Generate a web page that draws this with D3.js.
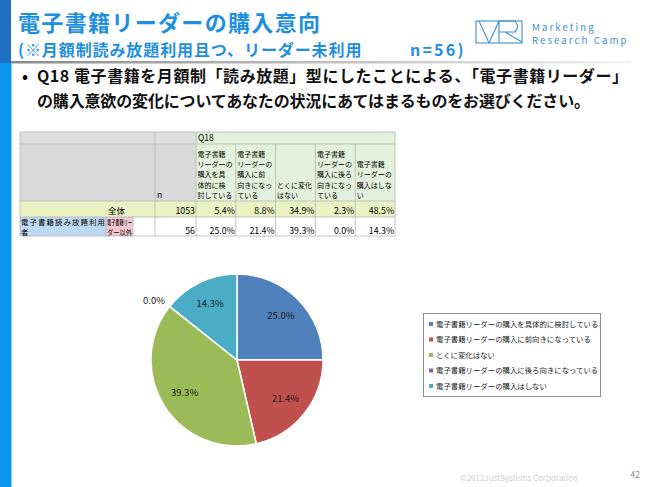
<!DOCTYPE html>
<html><head><meta charset="utf-8">
<script src="https://cdn.jsdelivr.net/npm/d3@7"></script>
<style>
html,body{margin:0;padding:0;background:#fff;}
svg{display:block;}
text{font-family:"Noto Sans CJK JP","Noto Sans",sans-serif;}
</style></head>
<body><svg id="c" width="650" height="487"></svg>
<script>
// ---- data ----
const titleLine1 = "電子書籍リーダーの購入意向";
const titleLine2a = "(※月額制読み放題利用且つ、リーダー未利用";
const titleLine2b = "n=56)";
const questionLines = ["Q18 電子書籍を月額制「読み放題」型にしたことによる、「電子書籍リーダー」",
                       "の購入意欲の変化についてあなたの状況にあてはまるものをお選びください。"];
const categories = ["電子書籍リーダーの購入を具体的に検討している",
                    "電子書籍リーダーの購入に前向きになっている",
                    "とくに変化はない",
                    "電子書籍リーダーの購入に後ろ向きになっている",
                    "電子書籍リーダーの購入はしない"];
const headerLines = [["電子書籍","リーダーの","購入を具","体的に検","討している"],
                     ["電子書籍","リーダーの","購入に前","向きになっ","ている"],
                     ["とくに変化","はない"],
                     ["電子書籍","リーダーの","購入に後ろ","向きになっ","ている"],
                     ["電子書籍","リーダーの","購入はしな","い"]];
const totalLabel = "全体";
const totalN = 1053;
const totalValues = [5.4, 8.8, 34.9, 2.3, 48.5];
const groupLabel = ["電子書籍読み放題利用","者"];
const subLabel = ["電子書籍リー","ダー以外"];
const readerN = 56;
const readerValues = [25.0, 21.4, 39.3, 0.0, 14.3];
const sliceColors = ["#4f81bd","#c0504d","#9bbb59","#8064a2","#4bacc6"];

const svg = d3.select("#c");
const fmt = d3.format(".1f");

// ---- frame ----
svg.append("rect").attr("x",0).attr("y",0).attr("width",11).attr("height",63).attr("fill","#1f6fc2");
svg.append("rect").attr("x",0).attr("y",63).attr("width",11).attr("height",424).attr("fill","#0a95f2");
svg.append("rect").attr("x",11).attr("y",63).attr("width",1).attr("height",424).attr("fill","#8fcdf8");
const defs = svg.append("defs");
const lg = defs.append("linearGradient").attr("id","hl");
lg.append("stop").attr("offset","0").attr("stop-color","#8a8a8a");
lg.append("stop").attr("offset","0.6").attr("stop-color","#c8c8c8");
lg.append("stop").attr("offset","1").attr("stop-color","#f4f4f4");
svg.append("rect").attr("x",11).attr("y",61).attr("width",620).attr("height",2.5).attr("fill","url(#hl)");

svg.append("text").attr("x",18).attr("y",31).attr("font-size",22).attr("font-weight","bold")
  .attr("fill","#1e8fe0").attr("textLength",302).attr("lengthAdjust","spacing").text(titleLine1);
const t2 = svg.append("text").attr("y",56).attr("font-size",16).attr("font-weight","bold").attr("fill","#1e8fe0");
t2.append("tspan").attr("x",18).attr("letter-spacing",0.9).text(titleLine2a);
t2.append("tspan").attr("x",410).attr("letter-spacing",2.2).text(titleLine2b);

// logo
const logo = svg.append("g").attr("stroke","#3d8fd2").attr("fill","none").attr("stroke-width",1.1);
logo.append("rect").attr("x",476).attr("y",21).attr("width",46).attr("height",22);
logo.append("path").attr("d","M479,21 L489,43 L499,21 M499,21 L499,43 M499,21 L515,21 Q520,27 515,32 L499,32 M505,32 L522,42");
svg.append("text").attr("x",532).attr("y",31).attr("font-size",9.6).attr("fill","#3d8fd2")
  .attr("font-family","DejaVu Sans").attr("letter-spacing",2.1).text("Marketing");
svg.append("text").attr("x",532).attr("y",44).attr("font-size",9.6).attr("fill","#3d8fd2")
  .attr("font-family","DejaVu Sans").attr("letter-spacing",2.1).text("Research Camp");

// question
svg.append("text").attr("x",22).attr("y",82).attr("font-size",16).attr("font-weight","bold").text("•");
svg.append("text").attr("x",37).attr("y",82).attr("font-size",16).attr("font-weight","bold")
  .attr("fill","#111").attr("textLength",591).attr("lengthAdjust","spacing").text(questionLines[0]);
svg.append("text").attr("x",37).attr("y",107).attr("font-size",16).attr("font-weight","bold")
  .attr("fill","#111").attr("textLength",553).attr("lengthAdjust","spacing").text(questionLines[1]);

// ---- table ----
const T = {x0:20, xN:155, xQ:196, x1:395, y0:132, yQ:144, yH:201, yT:217, y1:236};
const colX = d3.scaleBand().domain(d3.range(5)).range([T.xQ, T.x1]);
const tbl = svg.append("g").attr("font-size",8);
const line = "#b5b5b5";
tbl.append("rect").attr("x",T.x0).attr("y",T.y0).attr("width",T.xQ-T.x0).attr("height",T.yH-T.y0).attr("fill","#d9d9d9");
tbl.append("rect").attr("x",T.x0).attr("y",T.y0).attr("width",T.xQ-T.x0).attr("height",T.yQ-T.y0).attr("fill","#dedede");
tbl.append("rect").attr("x",T.xQ).attr("y",T.y0).attr("width",T.x1-T.xQ).attr("height",T.yH-T.y0).attr("fill","#e3f1dc");
tbl.append("rect").attr("x",T.x0).attr("y",T.yH).attr("width",T.x1-T.x0).attr("height",T.yT-T.yH).attr("fill","#eaf1c2");
tbl.append("rect").attr("x",T.x0).attr("y",T.yT).attr("width",106-T.x0).attr("height",T.y1-T.yT).attr("fill","#bcd8f2");
tbl.append("rect").attr("x",106).attr("y",T.yT).attr("width",133-106).attr("height",T.y1-T.yT).attr("fill","#f3c6d1");
// grid lines
const hl = (x1,x2,y)=>tbl.append("line").attr("x1",x1).attr("x2",x2).attr("y1",y).attr("y2",y).attr("stroke",line).attr("stroke-width",0.8);
const vl = (x,y1,y2)=>tbl.append("line").attr("x1",x).attr("x2",x).attr("y1",y1).attr("y2",y2).attr("stroke",line).attr("stroke-width",0.8);
hl(T.x0,T.x1,T.y0); hl(T.x0,T.x1,T.yQ); hl(T.x0,T.x1,T.yH); hl(T.x0,T.x1,T.yT); hl(T.x0,T.x1,T.y1);
vl(T.x0,T.y0,T.y1); vl(T.xN,T.y0,T.y1); vl(T.xQ,T.y0,T.y1); vl(T.x1,T.y0,T.y1);
d3.range(1,5).forEach(i=>vl(colX(i),T.yQ,T.y1));
vl(106,T.yT,T.y1); vl(133,T.yT,T.y1);
// header text
tbl.append("text").attr("x",T.xQ+2).attr("y",T.yQ-3).attr("font-size",8.5).text("Q18");
tbl.append("text").attr("x",T.xN+2).attr("y",T.yH-3).attr("font-size",8.5).text("n");
headerLines.forEach((ls,i)=>{
  ls.forEach((t,j)=>{
    tbl.append("text").attr("x",colX(i)+1.5).attr("y",T.yH-3-(ls.length-1-j)*10.3)
      .attr("font-size",7).text(t);
  });
});
// total row
tbl.append("text").attr("x",125).attr("y",T.yT-3).attr("text-anchor","end").attr("font-size",8.5).text(totalLabel);
tbl.append("text").attr("x",T.xQ-1).attr("y",T.yT-3).attr("text-anchor","end").attr("font-size",8.8).text(totalN);
totalValues.forEach((v,i)=>tbl.append("text").attr("x",colX(i)+colX.bandwidth()-1).attr("y",T.yT-3)
  .attr("text-anchor","end").attr("font-size",8.8).text(fmt(v)+"%"));
// data row
tbl.append("text").attr("x",T.x0+1).attr("y",T.yT+8.3).attr("font-size",7.4).attr("textLength",84).attr("lengthAdjust","spacing").text(groupLabel[0]);
tbl.append("text").attr("x",T.x0+1).attr("y",T.yT+18).attr("font-size",7.4).text(groupLabel[1]);
tbl.append("text").attr("x",107).attr("y",T.yT+8.3).attr("font-size",7.4).attr("textLength",25).attr("lengthAdjust","spacingAndGlyphs").text(subLabel[0]);
tbl.append("text").attr("x",107).attr("y",T.yT+18).attr("font-size",7.4).attr("textLength",25).attr("lengthAdjust","spacingAndGlyphs").text(subLabel[1]);
tbl.append("text").attr("x",T.xQ-1).attr("y",T.y1-2.5).attr("text-anchor","end").attr("font-size",8.8).text(readerN);
readerValues.forEach((v,i)=>tbl.append("text").attr("x",colX(i)+colX.bandwidth()-1).attr("y",T.y1-2.5)
  .attr("text-anchor","end").attr("font-size",8.8).text(fmt(v)+"%"));

// ---- pie ----
const cx=237, cy=360, R=86;
const pie = d3.pie().sort(null).value(d=>d);
const arcs = pie(readerValues);
const arc = d3.arc().innerRadius(0).outerRadius(R);
const labelArc = d3.arc().innerRadius(62).outerRadius(62);
const outArc = d3.arc().innerRadius(106).outerRadius(106);
const pg = svg.append("g").attr("transform",`translate(${cx},${cy})`);
pg.selectAll("path").data(arcs).join("path").attr("d",arc)
  .attr("fill",(d,i)=>sliceColors[i]).attr("stroke","#fff").attr("stroke-width",1.5);
pg.selectAll("text.lbl").data(arcs).join("text").attr("class","lbl")
  .attr("transform",d=>{
    const p = d.value>0 ? labelArc.centroid(d) : outArc.centroid(d);
    return `translate(${p[0]},${p[1]+(d.value>0?0:7)})`;})
  .attr("text-anchor","middle").attr("dy","0.35em")
  .attr("font-family","DejaVu Sans").attr("font-size",9.5).attr("fill","#1a1a1a")
  .text(d=>fmt(d.value)+"%");

// ---- legend ----
const lgd = svg.append("g");
lgd.append("rect").attr("x",423.5).attr("y",313.5).attr("width",177).attr("height",83)
  .attr("fill","#fff").attr("stroke","#8c8c8c").attr("stroke-width",1);
const ly = d3.scalePoint().domain(d3.range(5)).range([324,386]);
categories.forEach((c,i)=>{
  lgd.append("rect").attr("x",429).attr("y",ly(i)-2).attr("width",4).attr("height",4).attr("fill",sliceColors[i]);
  lgd.append("text").attr("x",436).attr("y",ly(i)).attr("dy","0.35em").attr("font-size",7.4).attr("fill","#222").text(c);
});

// footer
svg.append("text").attr("x",460).attr("y",481).attr("font-family","Liberation Sans").attr("font-size",8)
  .attr("fill","#d0d0d0").text("©2012JustSystems Corporation");
svg.append("text").attr("x",640).attr("y",478).attr("text-anchor","end").attr("font-family","Liberation Sans").attr("font-size",8.5)
  .attr("fill","#888").text("42");
</script></body></html>
